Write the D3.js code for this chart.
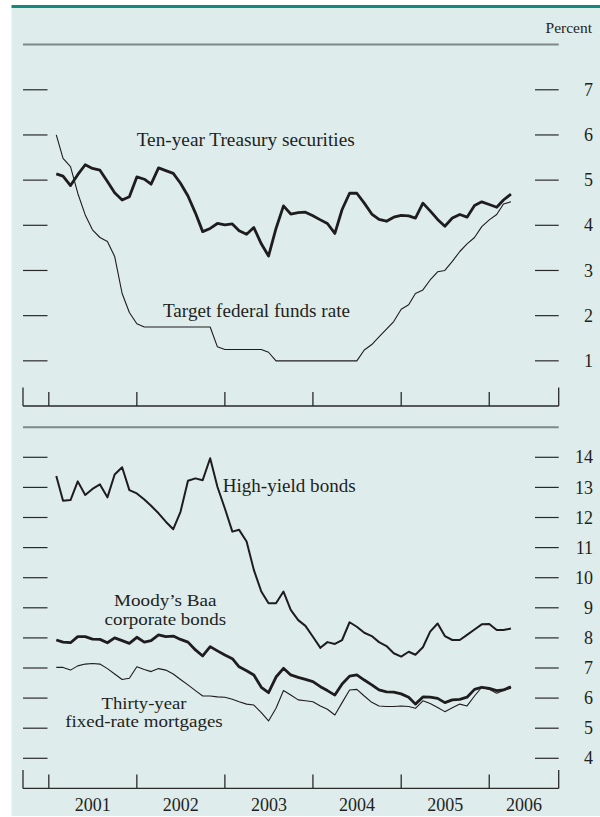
<!DOCTYPE html>
<html>
<head>
<meta charset="utf-8">
<script src="https://cdn.jsdelivr.net/npm/d3@7"></script>
<style>
  html, body { margin: 0; padding: 0; background: #ffffff; }
  svg { display: block; }
  text { font-family: "Liberation Serif", "Times New Roman", serif; fill: #231f20; }
</style>
</head>
<body>
<svg id="chart" width="600" height="817"></svg>
<script>
// ---------------- DATA (monthly, Jan 2001 – Mar 2006) ----------------
const startMonth = "2001-01";
const monthCount = 63;

const treasury10y = [5.14,5.09,4.88,5.12,5.34,5.26,5.22,4.97,4.72,4.56,4.63,5.07,
  5.02,4.91,5.27,5.21,5.15,4.93,4.65,4.27,3.86,3.93,4.04,4.01,
  4.03,3.88,3.80,3.95,3.59,3.32,3.93,4.43,4.25,4.28,4.29,4.21,
  4.12,4.04,3.82,4.35,4.71,4.71,4.49,4.25,4.13,4.09,4.18,4.22,
  4.21,4.16,4.49,4.32,4.13,3.98,4.16,4.24,4.18,4.44,4.52,4.46,
  4.40,4.56,4.69];

const fedFundsTarget = [6.00,5.48,5.30,4.71,4.23,3.90,3.73,3.64,3.31,2.49,2.07,1.82,
  1.75,1.75,1.75,1.75,1.75,1.75,1.75,1.75,1.75,1.75,1.31,1.25,
  1.25,1.25,1.25,1.25,1.25,1.19,1.00,1.00,1.00,1.00,1.00,1.00,
  1.00,1.00,1.00,1.00,1.00,1.00,1.24,1.36,1.53,1.70,1.87,2.14,
  2.24,2.49,2.57,2.79,2.97,3.00,3.20,3.42,3.59,3.73,3.97,4.12,
  4.24,4.47,4.52];

const highYield = [13.38,12.56,12.58,13.20,12.75,12.95,13.10,12.67,13.43,13.67,12.91,12.80,
  12.60,12.39,12.14,11.86,11.61,12.19,13.22,13.30,13.24,13.97,13.02,12.30,
  11.53,11.59,11.20,10.26,9.54,9.15,9.15,9.54,8.93,8.59,8.40,8.04,
  7.67,7.86,7.80,7.93,8.52,8.37,8.17,8.06,7.86,7.73,7.49,7.38,
  7.54,7.44,7.69,8.21,8.48,8.06,7.93,7.93,8.10,8.28,8.45,8.46,
  8.26,8.26,8.31];

const baaCorporate = [7.93,7.86,7.84,8.04,8.04,7.96,7.95,7.84,8.00,7.91,7.82,8.02,
  7.86,7.91,8.10,8.04,8.06,7.95,7.86,7.60,7.40,7.71,7.57,7.43,
  7.31,7.04,6.91,6.77,6.36,6.18,6.70,6.99,6.77,6.69,6.62,6.55,
  6.38,6.25,6.10,6.47,6.73,6.77,6.60,6.44,6.27,6.21,6.20,6.14,
  6.03,5.80,6.04,6.03,5.99,5.85,5.94,5.96,6.03,6.29,6.36,6.32,
  6.25,6.27,6.38];

const mortgage30y = [7.02,7.02,6.93,7.07,7.13,7.15,7.13,6.98,6.80,6.62,6.66,7.04,
  6.95,6.88,6.98,6.93,6.80,6.62,6.44,6.25,6.07,6.07,6.04,6.03,
  5.96,5.88,5.80,5.77,5.52,5.24,5.66,6.25,6.10,5.94,5.91,5.88,
  5.74,5.63,5.44,5.85,6.27,6.29,6.07,5.86,5.74,5.72,5.72,5.74,
  5.72,5.66,5.91,5.82,5.69,5.55,5.68,5.80,5.74,6.07,6.36,6.29,
  6.16,6.25,6.33];

const yearLabels = ["2001","2002","2003","2004","2005","2006"];
const topTicks = [1,2,3,4,5,6,7];
const bottomTicks = [4,5,6,7,8,9,10,11,12,13,14];

// ---------------- LAYOUT ----------------
const svg = d3.select("#chart");
const left = 23, right = 558.7;

const months = d3.range(monthCount).map(i => {
  const [y, m] = startMonth.split("-").map(Number);
  return d3.timeMonth.offset(new Date(y, m - 1, 1), i + 1); // plotted at end of month
});

const x = d3.scaleTime()
  .domain([new Date(2000, 8, 16), new Date(2006, 9, 16)])
  .range([left, right]);

const y1 = d3.scaleLinear().domain([0, 8]).range([406, 44.6]);
const y2 = d3.scaleLinear().domain([3, 15]).range([788.4, 427.2]);

// background + top rule
svg.append("rect").attr("x", 11.5).attr("y", 6).attr("width", 600 - 11.5).attr("height", 810)
  .attr("fill", "#deecec");
svg.append("rect").attr("x", 11.5).attr("y", 5).attr("width", 600 - 11.5).attr("height", 3)
  .attr("fill", "#12897a");

function panel(yScale, ticks, maxV, minV) {
  const g = svg.append("g");
  g.append("line").attr("x1", left).attr("x2", right)
    .attr("y1", yScale(maxV)).attr("y2", yScale(maxV))
    .attr("stroke", "#7d8a89").attr("stroke-width", 2);
  const tg = g.selectAll("g.tick").data(ticks).join("g");
  tg.append("line").attr("x1", left).attr("x2", 47.5)
    .attr("y1", d => yScale(d)).attr("y2", d => yScale(d))
    .attr("stroke", "#2a2a2a").attr("stroke-width", 1.2);
  tg.append("line").attr("x1", 535).attr("x2", right)
    .attr("y1", d => yScale(d)).attr("y2", d => yScale(d))
    .attr("stroke", "#2a2a2a").attr("stroke-width", 1.2);
  tg.append("text").attr("x", 593).attr("y", d => yScale(d)).attr("dy", "0.34em")
    .attr("text-anchor", "end").attr("font-size", 18).text(d => d);
  const base = yScale(minV);
  g.append("line").attr("x1", left).attr("x2", right).attr("y1", base).attr("y2", base)
    .attr("stroke", "#2a2a2a").attr("stroke-width", 1.3);
  [left, right].forEach(xx => g.append("line").attr("x1", xx).attr("x2", xx)
    .attr("y1", base - 18.5).attr("y2", base).attr("stroke", "#2a2a2a").attr("stroke-width", 1.3));
  yearLabels.forEach(yl => {
    const xx = x(new Date(+yl, 0, 1));
    g.append("line").attr("x1", xx).attr("x2", xx).attr("y1", base - 14).attr("y2", base)
      .attr("stroke", "#2a2a2a").attr("stroke-width", 1.3);
  });
  return g;
}

panel(y1, topTicks, 8, 0);
panel(y2, bottomTicks, 15, 3);

svg.append("text").attr("x", 592).attr("y", 33).attr("text-anchor", "end")
  .attr("font-size", 15.5).text("Percent");

svg.selectAll("text.year").data(yearLabels).join("text").attr("class", "year")
  .attr("x", d => (x(new Date(+d, 0, 1)) + Math.min(x(new Date(+d + 1, 0, 1)), right)) / 2)
  .attr("y", 810.5).attr("text-anchor", "middle").attr("font-size", 18).text(d => d);

function drawLine(values, yScale, width) {
  const line = d3.line().x((d, i) => x(months[i])).y(d => yScale(d)).curve(d3.curveLinear);
  svg.append("path").datum(values).attr("d", line).attr("fill", "none")
    .attr("stroke", "#1f1c1d").attr("stroke-width", width)
    .attr("stroke-linejoin", "round").attr("stroke-linecap", "butt");
}
drawLine(fedFundsTarget, y1, 1.1);
drawLine(treasury10y, y1, 2.8);
drawLine(mortgage30y, y2, 1.1);
drawLine(baaCorporate, y2, 2.8);
drawLine(highYield, y2, 2.0);

// series labels, stretched to the widths seen in the reference
function label(txt, xx, yy, anchor, size, len) {
  svg.append("text").attr("x", xx).attr("y", yy).attr("text-anchor", anchor || "start")
    .attr("font-size", size).attr("textLength", len).attr("lengthAdjust", "spacingAndGlyphs")
    .text(txt);
}
label("Ten-year Treasury securities", 136.7, 146, "start", 18.5, 218);
label("Target federal funds rate", 163, 317, "start", 18.5, 187);
label("High-yield bonds", 222.7, 492.3, "start", 18.5, 133);
label("Moody\u2019s Baa", 165.3, 606.2, "middle", 16.8, 102.5);
label("corporate bonds", 165.3, 624.8, "middle", 16.8, 121.5);
label("Thirty-year", 144, 708.8, "middle", 16.8, 85);
label("fixed-rate mortgages", 144, 726.8, "middle", 16.8, 157.5);
</script>
</body>
</html>
